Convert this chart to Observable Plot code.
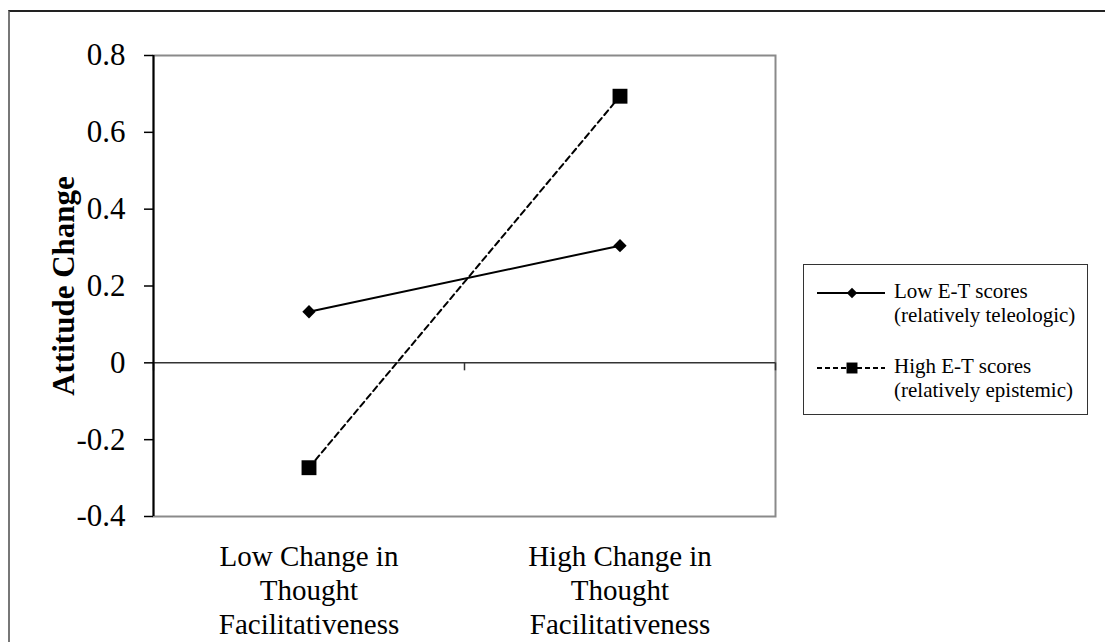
<!DOCTYPE html>
<html><head><meta charset="utf-8">
<script src="https://cdn.jsdelivr.net/npm/d3@7"></script>
<script src="https://cdn.jsdelivr.net/npm/@observablehq/plot@0.6"></script>
<style>
body{margin:0;background:#fff;}
#wrap{position:relative;width:1105px;height:642px;overflow:hidden;font-family:"Liberation Serif","Times New Roman",serif;background:#fff;}
#frame{position:absolute;left:8px;top:10px;width:1200px;height:700px;border-top:2px solid #222;border-left:2px solid #777;}
#chart{position:absolute;left:0;top:0;}
#legend{position:absolute;left:803px;top:264px;width:283px;height:149px;border:1px solid #333;background:#fff;}
.lg-text{position:absolute;left:90px;font-size:21px;line-height:24px;color:#000;white-space:pre;}
.lg-swatch{position:absolute;left:13px;}
</style></head>
<body>
<div id="wrap"><div id="frame"></div><div id="chart"></div><div id="legend"></div></div>
<script>
const categories = ["Low Change in\nThought\nFacilitativeness", "High Change in\nThought\nFacilitativeness"];
const seriesNames = ["Low E-T scores\n(relatively teleologic)", "High E-T scores\n(relatively epistemic)"];
const lowET = [0.133, 0.305];
const highET = [-0.273, 0.694];
const yTicks = [-0.4, -0.2, 0, 0.2, 0.4, 0.6, 0.8];
const yTitle = "Attitude Change";

const catPos = categories.map((c, i) => i + 0.5);
const boundaries = d3.range(categories.length + 1);
const lowData = lowET.map((v, i) => ({x: catPos[i], y: v}));
const highData = highET.map((v, i) => ({x: catPos[i], y: v}));

const chart = Plot.plot({
  width: 1105, height: 642,
  marginLeft: 153, marginRight: 330, marginTop: 55, marginBottom: 126,
  style: {fontFamily: "'Liberation Serif','Times New Roman',serif", color: "#000", background: "transparent"},
  x: {type: "linear", domain: [0, categories.length], axis: null},
  y: {domain: [-0.4, 0.8], axis: null},
  marks: [
    Plot.frame({stroke: "#8a8a8a", strokeWidth: 2}),
    Plot.ruleY([0], {stroke: "#333", strokeWidth: 1.5}),
    Plot.ruleX(boundaries, {y1: 0, y2: 0, insetBottom: -8, stroke: "#333", strokeWidth: 1.5}),
    Plot.ruleX([0], {stroke: "#000", strokeWidth: 2}),
    Plot.axisY({ticks: yTicks, tickSize: 9, tickPadding: 19, fontSize: 31, label: null,
      tickFormat: d => d === 0 ? "0" : d.toFixed(1), strokeWidth: 1.5}),
    Plot.axisX(catPos, {tickSize: 0, tickPadding: 25, fontSize: 29, lineHeight: 1.18, label: null,
      tickFormat: d => categories[Math.floor(d)]}),
    Plot.text([yTitle], {frameAnchor: "left", rotate: -90, dx: -89, fontSize: 31, fontWeight: "bold", textAnchor: "middle"}),
    Plot.line(lowData, {x: "x", y: "y", stroke: "#000", strokeWidth: 2}),
    Plot.line(highData, {x: "x", y: "y", stroke: "#000", strokeWidth: 2, strokeDasharray: "6,4"}),
    Plot.dot(lowData, {x: "x", y: "y", symbol: "diamond2", r: 6, fill: "#000", stroke: "none"}),
    Plot.dot(highData, {x: "x", y: "y", symbol: "square", r: 8.4, fill: "#000", stroke: "none"})
  ]
});
document.getElementById("chart").appendChild(chart);

// legend
const legend = document.getElementById("legend");
const styles = [{dash: null, symbol: d3.symbolDiamond2, size: 70}, {dash: "5,3", symbol: d3.symbolSquare, size: 120}];
const tops = [14, 89];
seriesNames.forEach((name, i) => {
  const t = document.createElement("div");
  t.className = "lg-text";
  t.style.top = tops[i] + "px";
  t.textContent = name;
  legend.appendChild(t);
  const sw = d3.create("svg").attr("class", "lg-swatch").attr("width", 70).attr("height", 20)
    .style("top", (tops[i] + 4) + "px");
  sw.append("line").attr("x1", 0).attr("x2", 68).attr("y1", 10).attr("y2", 10)
    .attr("stroke", "#000").attr("stroke-width", 2).attr("stroke-dasharray", styles[i].dash);
  sw.append("path").attr("d", d3.symbol(styles[i].symbol, styles[i].size)()).attr("transform", "translate(35,10)").attr("fill", "#000");
  legend.appendChild(sw.node());
});
</script>
</body></html>
